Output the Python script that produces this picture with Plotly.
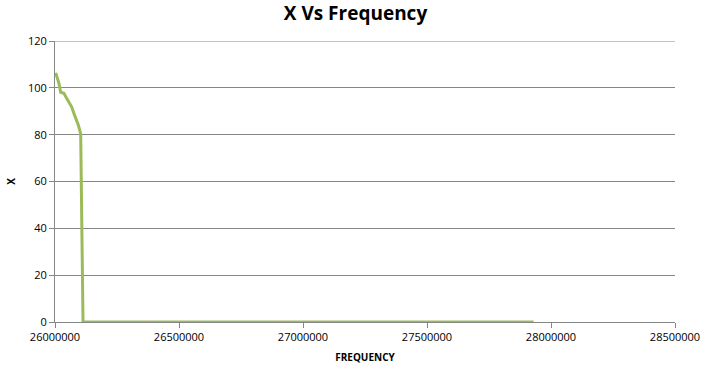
import plotly.graph_objects as go

frequency = [26002800, 26016000, 26023000, 26036000, 26047000, 26067000, 26081000,
             26094000, 26103600, 26113000, 26300000, 26600000, 27000000, 27400000,
             27700000, 27930000]
x_values = [106.4, 101.9, 98.1, 97.7, 95.5, 91.9, 87.7, 84.1, 80.3, 0, 0, 0, 0, 0, 0, 0]

x_ticks = [26000000, 26500000, 27000000, 27500000, 28000000, 28500000]
y_ticks = [0, 20, 40, 60, 80, 100, 120]

fig = go.Figure()
fig.add_trace(go.Scatter(x=frequency, y=x_values, mode="lines",
                         line=dict(color="#9BBB59", width=3), showlegend=False))

font_fam = "Open Sans, Noto Sans, sans-serif"
fig.update_layout(
    width=711, height=372,
    margin=dict(l=55, r=36, t=41, b=50, autoexpand=False),
    paper_bgcolor="white", plot_bgcolor="white",
    title=dict(text="<b>X Vs Frequency</b>", x=0.5, xanchor="center", y=0.965, yanchor="middle",
               font=dict(family=font_fam, size=19, color="#000000")),
    xaxis=dict(range=[26000000, 28500000], tickvals=x_ticks,
               ticktext=[str(v) for v in x_ticks], automargin=False,
               showgrid=False, showline=True, linecolor="#868686", linewidth=1,
               ticks="outside", ticklen=5, tickcolor="#868686",
               tickfont=dict(family=font_fam, size=11, color="#000000"),
               title=dict(text="<b>FREQUENCY</b>", standoff=10,
                          font=dict(family=font_fam, size=10, color="#000000")),
               zeroline=False),
    yaxis=dict(range=[0, 120], tickvals=y_ticks, automargin=False,
               showgrid=True, gridcolor="#868686", gridwidth=1,
               showline=True, linecolor="#868686", linewidth=1,
               ticks="outside", ticklen=5, tickcolor="#868686",
               tickfont=dict(family=font_fam, size=11, color="#000000"),
               title=dict(text="<b>X</b>", standoff=10,
                          font=dict(family=font_fam, size=10, color="#000000")),
               zeroline=False),
    shapes=[dict(type="line", xref="paper", x0=0, x1=1, yref="y", y0=y_ticks[-1], y1=y_ticks[-1],
                 line=dict(color="#868686", width=1), layer="below")],
)

fig.write_html("out.html")
